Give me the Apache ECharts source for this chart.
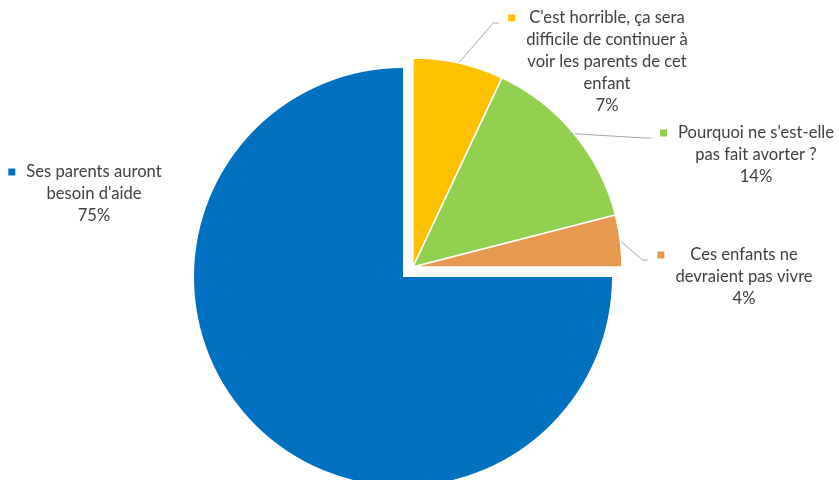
<!DOCTYPE html>
<html>
<head>
<meta charset="utf-8">
<script src="https://cdn.jsdelivr.net/npm/echarts@6/dist/echarts.min.js"></script>
<style>
  html, body { margin: 0; padding: 0; background: #ffffff; }
  #chart { width: 839px; height: 480px; }
</style>
</head>
<body>
<div id="chart"></div>
<script>
// Survey answers (categories) and their shares in percent
const categories = [
  "Ses parents auront besoin d'aide",
  "C'est horrible, ça sera difficile de continuer à voir les parents de cet enfant",
  "Pourquoi ne s'est-elle pas fait avorter ?",
  "Ces enfants ne devraient pas vivre"
];
const shares = [75, 7, 14, 4];

// How each category name wraps in its label
const labelLines = [
  ["Ses parents auront", "besoin d'aide"],
  ["C'est horrible, ça sera", "difficile de continuer à", "voir les parents de cet", "enfant"],
  ["Pourquoi ne s'est-elle", "pas fait avorter ?"],
  ["Ces enfants ne", "devraient pas vivre"]
];

// Styling and layout
const sliceColors = ['#0070C0', '#FFC000', '#92D050', '#E6994F'];
const PIE_CENTER = [403, 277];
const PIE_RADIUS = 209;
const EXPLODE = [10, -10];              // the three small answers are pulled out together
const FONT = 'Lato';
const FONT_SIZE = 16.6;
const LINE_H = 22;
const KEY = 7, KEY_GAP = 11;            // legend key square beside each label
const PAD = KEY + KEY_GAP;
// label anchors: [text centre x, first line centre y]
const labelAnchors = [[94, 172], [607, 18], [756, 133], [744, 255]];

const chart = echarts.init(document.getElementById('chart'), null, { renderer: 'canvas' });

const rich = {
  g: { width: KEY_GAP, height: KEY },
  p: { width: PAD, height: KEY },
  t: { align: 'center', fontFamily: FONT, fontSize: FONT_SIZE, color: '#404040', lineHeight: LINE_H }
};
sliceColors.forEach((c, i) => { rich['m' + i] = { width: KEY, height: KEY, backgroundColor: c }; });

function labelText(i) {
  const lines = labelLines[i].concat([shares[i] + '%']);
  return lines.map((s, k) => (k === 0 ? `{m${i}|}{g|}{t|${s}}` : `{p|}{t|${s}}`)).join('\n');
}

function buildData(visibleIdx) {
  return categories.map((name, i) => {
    const on = visibleIdx.includes(i);
    return {
      name: name,
      value: shares[i],
      itemStyle: on
        ? { color: sliceColors[i] }
        : { color: 'rgba(0,0,0,0)', borderWidth: 0 },
      label: { show: on },
      labelLine: { show: on && i !== 0 }
    };
  });
}

function placeLabel(params, seriesIndex) {
  const i = params.dataIndex;
  const [cx, fy] = labelAnchors[i];
  const W = params.labelRect.width;
  const left = cx - PAD - (W - PAD) / 2;
  const top = fy - LINE_H / 2;
  const out = { x: left, y: top, align: 'left', verticalAlign: 'top' };
  if (i !== 0) {
    let start = params.labelLinePoints && params.labelLinePoints[0];
    if (!start) {
      const lay = chart.getModel().getSeriesByIndex(seriesIndex).getData().getItemLayout(i);
      const mid = (lay.startAngle + lay.endAngle) / 2;
      start = [lay.cx + lay.r * Math.cos(mid), lay.cy + lay.r * Math.sin(mid)];
    }
    const end = [left - 9, fy + 5];
    const bend = [end[0] - 6, end[1]];
    out.labelLinePoints = [start, bend, end];
  }
  return out;
}

const common = {
  type: 'pie',
  radius: PIE_RADIUS,
  startAngle: 0,
  clockwise: true,
  avoidLabelOverlap: false,
  silent: true,
  animation: false,
  label: {
    position: 'outside',
    lineHeight: LINE_H,
    fontFamily: FONT,
    fontSize: FONT_SIZE,
    color: '#404040',
    formatter: (p) => labelText(p.dataIndex),
    rich: rich
  },
  labelLine: { length: 5, length2: 5, lineStyle: { color: '#A6A6A6', width: 1 } },
  emphasis: { disabled: true }
};

chart.setOption({
  backgroundColor: '#ffffff',
  series: [
    Object.assign({}, common, {
      center: PIE_CENTER,
      itemStyle: { borderWidth: 0 },
      data: buildData([0]),
      labelLayout: (p) => placeLabel(p, 0)
    }),
    Object.assign({}, common, {
      center: [PIE_CENTER[0] + EXPLODE[0], PIE_CENTER[1] + EXPLODE[1]],
      itemStyle: { borderColor: '#ffffff', borderWidth: 1.5 },
      data: buildData([1, 2, 3]),
      labelLayout: (p) => placeLabel(p, 1)
    })
  ]
});
</script>
</body>
</html>
